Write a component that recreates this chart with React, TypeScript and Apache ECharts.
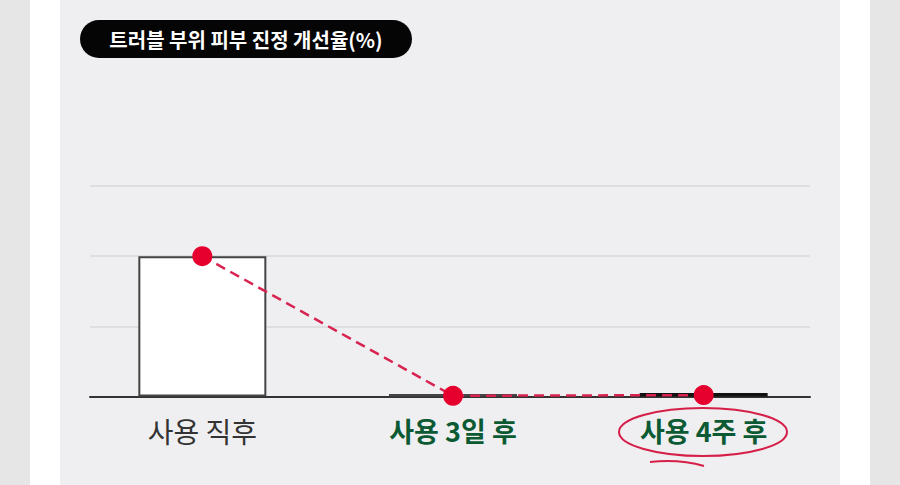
import React, { useEffect, useRef } from "react";
import * as echarts from "echarts";

const categories = ["사용 직후", "사용 3일 후", "사용 4주 후"];
const barValues = [20, 0.35, 0.5];
const lineValues = [20, 0.1, 0.2];
const yTicks = [0, 10, 20, 30];
const titleText = "트러블 부위 피부 진정 개선율(%)";

export default function App() {
  const ref = useRef<HTMLDivElement>(null);
  useEffect(() => {
    document.body.style.margin = "0";
    const chart = echarts.init(ref.current!, null, { renderer: "svg" });
    const font = "'Noto Sans CJK KR', 'Noto Sans', sans-serif";
    const yMax = yTicks[yTicks.length - 1];
    const yInterval = yTicks[1] - yTicks[0];
    chart.setOption({
      animation: false,
      backgroundColor: "#ffffff",
      grid: [
        { left: 77, right: 71, top: 186, bottom: 88.5 },
        { left: 90, right: 90, top: 186, bottom: 88.5 },
      ],
      xAxis: [
        {
          type: "category",
          gridIndex: 0,
          data: categories,
          axisLine: { show: false },
          axisTick: { show: false },
          axisLabel: {
            margin: 20,
            formatter: (v: string, i: number) =>
              i === 0 ? `{n|${v}}` : `{g|${v}}`,
            rich: {
              n: { fontFamily: font, fontSize: 28, color: "#333333", fontWeight: 400 },
              g: { fontFamily: font, fontSize: 27, color: "#0c5a33", fontWeight: 700 },
            },
          },
        },
        {
          type: "value",
          gridIndex: 1,
          min: 0,
          max: 1,
          axisLine: { show: true, onZero: false, lineStyle: { color: "#333333", width: 2 } },
          axisTick: { show: false },
          axisLabel: { show: false },
          splitLine: { show: false },
        },
      ],
      yAxis: [
        {
          type: "value",
          gridIndex: 0,
          min: 0,
          max: yMax,
          interval: yInterval,
          axisLine: { show: false },
          axisTick: { show: false },
          axisLabel: { show: false },
          splitLine: { show: false },
        },
        {
          type: "value",
          gridIndex: 1,
          min: 0,
          max: yMax,
          interval: yInterval,
          axisLine: { show: false },
          axisTick: { show: false },
          axisLabel: { show: false },
          splitLine: { show: true, lineStyle: { color: "#d9d9db", width: 1.5 } },
        },
      ],
      graphic: [
        { type: "rect", z: -10, silent: true, shape: { x: 0, y: 0, width: 30, height: 485 }, style: { fill: "#e6e6e6" } },
        { type: "rect", z: -10, silent: true, shape: { x: 870, y: 0, width: 30, height: 485 }, style: { fill: "#e6e6e6" } },
        { type: "rect", z: -10, silent: true, shape: { x: 60, y: 0, width: 780, height: 485 }, style: { fill: "#efeff1" } },
        {
          type: "rect",
          z: 10,
          shape: { x: 80, y: 20, width: 332, height: 38, r: 19 },
          style: { fill: "#050505" },
        },
        {
          type: "text",
          z: 11,
          x: 246,
          y: 39,
          style: {
            text: titleText,
            fill: "#ffffff",
            font: `700 20px ${font}`,
            align: "center",
            verticalAlign: "middle",
          },
        },
        {
          type: "ellipse",
          z: 10,
          shape: { cx: 703, cy: 432, rx: 84, ry: 24 },
          style: { fill: "none", stroke: "#d61f48", lineWidth: 2 },
        },
        {
          type: "bezierCurve",
          z: 10,
          shape: { x1: 650, y1: 462, x2: 704, y2: 466, cpx1: 670, cpy1: 460, cpx2: 690, cpy2: 462 },
          style: { fill: "none", stroke: "#d61f48", lineWidth: 2 },
        },
      ],
      series: [
        {
          type: "bar",
          xAxisIndex: 0,
          yAxisIndex: 0,
          barWidth: 128,
          z: 3,
          data: barValues.map((v, i) => ({
            value: v,
            itemStyle:
              i === 2
                ? { color: "#111111", borderColor: "#111111", borderWidth: 1.5 }
                : { color: "#ffffff", borderColor: "#444444", borderWidth: 2 },
          })),
        },
        {
          type: "line",
          xAxisIndex: 0,
          yAxisIndex: 0,
          z: 5,
          data: lineValues,
          symbol: "circle",
          symbolSize: 20,
          itemStyle: { color: "#e5002e" },
          lineStyle: { color: "#d82350", width: 2.5, type: [10, 6] },
        },
      ],
    });
    return () => chart.dispose();
  }, []);
  return (
    <div
      ref={ref}
      style={{ position: "absolute", left: 0, top: 0, width: 900, height: 485 }}
    />
  );
}
